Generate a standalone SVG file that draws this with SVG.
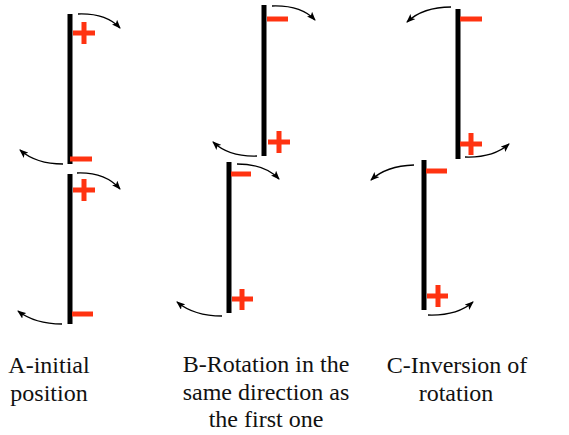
<svg xmlns="http://www.w3.org/2000/svg" width="569" height="435" viewBox="0 0 569 435">
<defs>
<marker id="ah" markerUnits="userSpaceOnUse" markerWidth="9" markerHeight="7" refX="8" refY="3.5" orient="auto">
<path d="M0,0 L9,3.5 L0,7 L2,3.5 z" fill="#000"/>
</marker>
<style>
.bar{fill:#000}
.pm{stroke:#ff3311;stroke-width:5;fill:none}
.arr{stroke:#000;stroke-width:1.3;fill:none;marker-end:url(#ah)}
.lbl{font-size:24px;fill:#111}
</style>
</defs>
<rect width="569" height="435" fill="#fff"/>
<g id="A-top">
<rect class="bar" x="67.5" y="14" width="5" height="150"/>
<path class="pm" d="M73,33 H95 M84,22 V44"/>
<path class="pm" d="M70,159 H92"/>
</g>
<g id="A-bottom">
<rect class="bar" x="67.5" y="174" width="5" height="150"/>
<path class="pm" d="M73,190 H95 M84,179 V201"/>
<path class="pm" d="M72,314 H93"/>
</g>
<g id="B-top">
<rect class="bar" x="261.5" y="5" width="5" height="151"/>
<path class="pm" d="M267,19 H288"/>
<path class="pm" d="M268,142 H290 M279,131 V153"/>
</g>
<g id="B-bottom">
<rect class="bar" x="226.5" y="162" width="5" height="151"/>
<path class="pm" d="M231,174 H251"/>
<path class="pm" d="M232,299 H253 M242,289 V310"/>
</g>
<g id="C-top">
<rect class="bar" x="455.5" y="9" width="5" height="150"/>
<path class="pm" d="M460,19 H482"/>
<path class="pm" d="M460,144 H482 M471,133 V155"/>
</g>
<g id="C-bottom">
<rect class="bar" x="421.5" y="160" width="5" height="150"/>
<path class="pm" d="M426,171 H447"/>
<path class="pm" d="M427,296 H448 M438,285 V307"/>
</g>
<g id="connectors">
<path class="arr" d="M78,14 Q106,13 120,28"/>
<path class="arr" d="M63,164 Q36,164 20,150"/>
<path class="arr" d="M77,173 Q105,172 120,189"/>
<path class="arr" d="M62,324 Q35,324 18,311"/>
<path class="arr" d="M272,6 Q301,5 315,20"/>
<path class="arr" d="M257,156 Q229,157 213,142"/>
<path class="arr" d="M237,164 Q265,164 279,179"/>
<path class="arr" d="M222,316 Q194,316 177,302"/>
<path class="arr" d="M451,7 Q423,7 407,22"/>
<path class="arr" d="M465,157 Q493,158 509,144"/>
<path class="arr" d="M414,165 Q386,166 371,180"/>
<path class="arr" d="M428,315 Q457,316 473,302"/>
</g>
<g id="labels" font-family="'Liberation Serif', 'Times New Roman', 'DejaVu Serif', serif">
<text class="lbl" x="49" y="373" text-anchor="middle">A-initial</text>
<text class="lbl" x="49" y="401" text-anchor="middle">position</text>
<text class="lbl" x="266" y="372" text-anchor="middle">B-Rotation in the</text>
<text class="lbl" x="266" y="400" text-anchor="middle">same direction as</text>
<text class="lbl" x="266" y="427" text-anchor="middle">the first one</text>
<text class="lbl" x="457" y="373" text-anchor="middle">C-Inversion of</text>
<text class="lbl" x="456" y="401" text-anchor="middle">rotation</text>
</g>
</svg>
